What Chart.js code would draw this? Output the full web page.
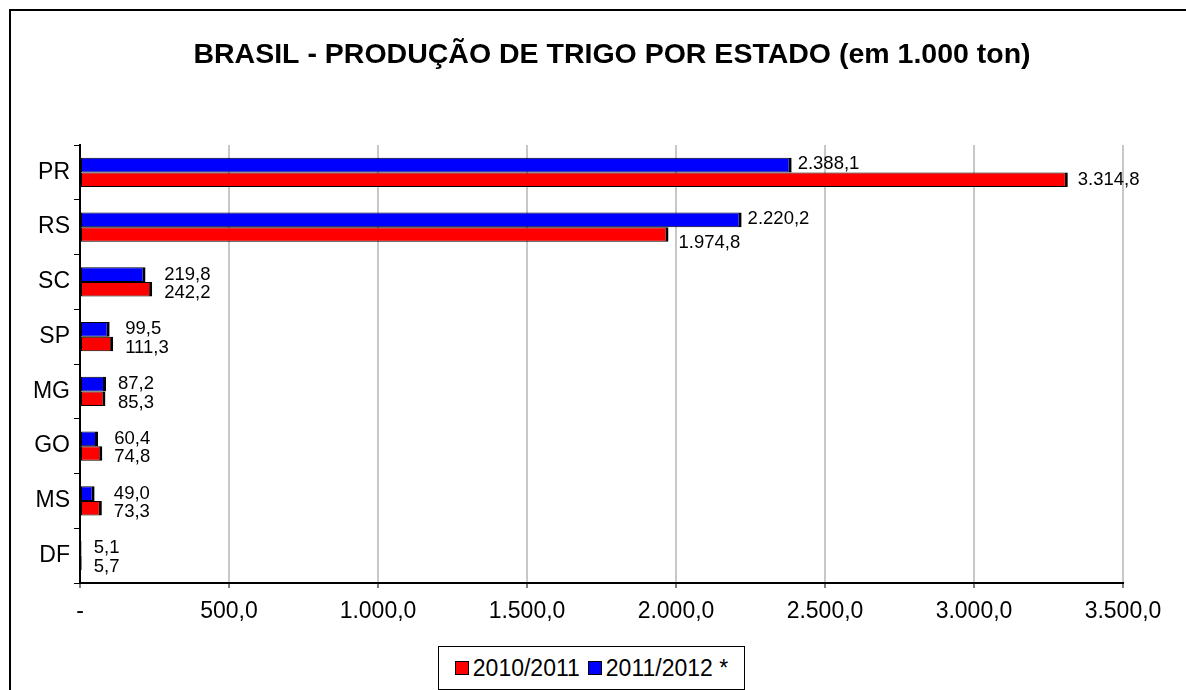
<!DOCTYPE html>
<html>
<head>
<meta charset="utf-8">
<script src="https://cdn.jsdelivr.net/npm/chart.js@4/dist/chart.umd.min.js"></script>
<style>
    html, body { margin: 0; padding: 0; background: #fff; overflow: hidden; }
    #wrap { position: relative; width: 1186px; height: 690px; }
    #frame {
        position: absolute; left: 9px; top: 9px; width: 1300px; height: 800px;
        border-left: 2px solid #000; border-top: 2px solid #000; pointer-events: none;
    }
    #legend {
        position: absolute; left: 438px; top: 646px; width: 307px; height: 44px;
        box-sizing: border-box; border: 1px solid #000; background: #fff;
        display: flex; align-items: center; justify-content: center; gap: 8px;
        font-family: "Liberation Sans", Arial, sans-serif; font-size: 23px; color: #000;
    }
    .item { display: flex; align-items: center; gap: 4px; }
    .swatch { width: 12px; height: 12px; border: 1px solid #000; }
</style>
</head>
<body>
<div id="wrap">
    <canvas id="chart" width="1186" height="690"></canvas>
    <div id="frame"></div>
    <div id="legend"></div>
</div>
<script>
const categories = ["PR", "RS", "SC", "SP", "MG", "GO", "MS", "DF"];
const safra2010 = [3314.8, 1974.8, 242.2, 111.3, 85.3, 74.8, 73.3, 5.7];
const safra2011 = [2388.1, 2220.2, 219.8, 99.5, 87.2, 60.4, 49.0, 5.1];
const seriesNames = ["2010/2011", "2011/2012 *"];
const xTicks = [0, 500, 1000, 1500, 2000, 2500, 3000, 3500];

const RED = "#ff0000";
const BLUE = "#0000ff";
const FONT = '"Liberation Sans", Arial, sans-serif';

Chart.defaults.font.family = FONT;
Chart.defaults.color = "#000";

// 1.000,0 style numbers
function fmt(v) {
    const parts = v.toFixed(1).split(".");
    parts[0] = parts[0].replace(/\B(?=(\d{3})+(?!\d))/g, ".");
    return parts.join(",");
}

const titlePlugin = {
    id: "bigTitle",
    afterDraw(chart) {
        const ctx = chart.ctx;
        ctx.save();
        ctx.font = "bold 28.5px " + FONT;
        ctx.fillStyle = "#000";
        ctx.textAlign = "center";
        ctx.textBaseline = "middle";
        ctx.fillText("BRASIL - PRODUÇÃO DE TRIGO POR ESTADO (em 1.000 ton)", 612, 55);
        ctx.restore();
    }
};

const valueLabels = {
    id: "valueLabels",
    afterDatasetsDraw(chart) {
        const ctx = chart.ctx;
        const blue = chart.getDatasetMeta(0).data;
        const red = chart.getDatasetMeta(1).data;
        ctx.save();
        ctx.font = "18.5px " + FONT;
        ctx.fillStyle = "#000";
        ctx.textAlign = "left";
        ctx.textBaseline = "middle";
        categories.forEach((c, i) => {
            const b = blue[i], r = red[i];
            const tb = fmt(safra2011[i]);
            const tr = fmt(safra2010[i]);
            const w = Math.max(ctx.measureText(tb).width, ctx.measureText(tr).width);
            let xb = b.x + 6, xr = r.x + 10, yb = b.y - 1, yr = r.y;
            if (Math.abs(b.x - r.x) < w + 10) {
                // short bars -> stack both labels
                xb = xr = Math.max(b.x, r.x) + 12;
                yb = b.y;
                yr = r.y + 4;
            } else if (r.x < b.x) {
                yr = r.y + 9;
            }
            ctx.fillText(tb, xb, yb);
            ctx.fillText(tr, xr, yr);
        });
        ctx.restore();
    }
};

const barBorder = { top: 1, bottom: 1, left: 1, right: 3 };

new Chart(document.getElementById("chart"), {
    type: "bar",
    data: {
        labels: categories,
        datasets: [
            {
                label: seriesNames[1],
                data: safra2011,
                backgroundColor: BLUE,
                borderColor: "#000",
                borderWidth: barBorder,
                borderSkipped: false
            },
            {
                label: seriesNames[0],
                data: safra2010,
                backgroundColor: RED,
                borderColor: "#000",
                borderWidth: barBorder,
                borderSkipped: false
            }
        ]
    },
    options: {
        indexAxis: "y",
        responsive: false,
        animation: false,
        categoryPercentage: 0.53,
        barPercentage: 1,
        layout: {
            padding: { top: 145, right: 63, bottom: 0, left: 0 }
        },
        plugins: {
            legend: { display: false },
            title: { display: false },
            tooltip: { enabled: false }
        },
        scales: {
            x: {
                min: 0,
                max: 3500,
                afterBuildTicks: (scale) => {
                    scale.ticks = xTicks.map(v => ({ value: v }));
                },
                afterFit: (scale) => { scale.height = 107; },
                grid: {
                    color: "#c8c8c8",
                    lineWidth: 2,
                    tickColor: "#000",
                    tickWidth: 1,
                    tickLength: 5
                },
                border: { color: "#000", width: 2 },
                ticks: {
                    font: { size: 23 },
                    padding: 10,
                    maxRotation: 0,
                    callback: (v) => v === 0 ? "-" : fmt(v)
                }
            },
            y: {
                afterFit: (scale) => { scale.width = 80; },
                grid: {
                    drawOnChartArea: false,
                    offset: true,
                    tickColor: "#000",
                    tickLength: 6
                },
                border: { color: "#000", width: 2 },
                ticks: {
                    font: { size: 23 },
                    padding: 4
                }
            }
        }
    },
    plugins: [valueLabels, titlePlugin]
});

// legend box, 2010/2011 first
const legend = document.getElementById("legend");
[[seriesNames[0], RED], [seriesNames[1], BLUE]].forEach(([name, color]) => {
    const item = document.createElement("div");
    item.className = "item";
    const sw = document.createElement("span");
    sw.className = "swatch";
    sw.style.background = color;
    const txt = document.createElement("span");
    txt.textContent = name;
    item.appendChild(sw);
    item.appendChild(txt);
    legend.appendChild(item);
});
</script>
</body>
</html>
